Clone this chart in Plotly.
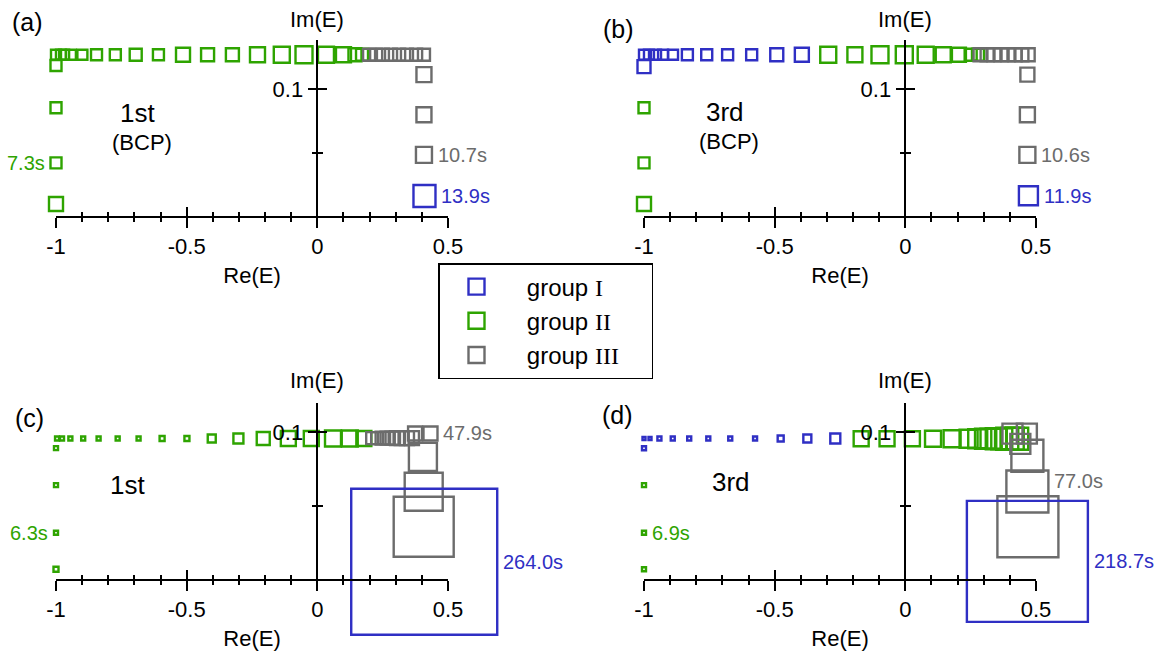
import plotly.graph_objects as go

W, H = 1167, 654
FONT = "Liberation Sans, Arial, Helvetica, sans-serif"
SERIF = "Liberation Serif, Times New Roman, serif"
BLUE = "#2f2fc4"
GREEN = "#2ea400"
GRAY = "#6c6c6c"

# ---------------- data (Re(E), Im(E), marker size ~ elapsed time) ----------------
# panel (a): 1st (BCP)
a_I_x = [0.410]
a_I_y = [0.0158]
a_I_s = [22]
a_II_x = [-1.0, -1.0, -1.0, -1.0,
          -1.0, -0.981, -0.969, -0.943, -0.899, -0.845, -0.773, -0.695, -0.608, -0.514,
          -0.420, -0.325, -0.229, -0.136, -0.051, 0.033, 0.100, 0.144, 0.171]
a_II_y = [0.0095, 0.0418, 0.0853, 0.1185] + [0.127] * 19
a_II_s = [14, 11, 11, 11,
          10, 10, 10, 10, 10, 11, 11, 12, 11, 14, 13, 13, 15, 16, 17, 16, 15, 13, 12]
a_III_x = [0.198, 0.225, 0.251, 0.282, 0.313, 0.343, 0.378, 0.408, 0.408, 0.408, 0.408]
a_III_y = [0.127] * 8 + [0.1113, 0.0797, 0.0481]
a_III_s = [12] * 8 + [15, 15, 16]

# panel (b): 3rd (BCP)
b_I_x = [-1.0, -1.0, -0.981, -0.954, -0.927, -0.889, -0.834, -0.760, -0.680, -0.588,
         -0.492, -0.396, 0.471]
b_I_y = [0.1176] + [0.127] * 11 + [0.016]
b_I_s = [13, 10, 10, 10, 10, 10, 11, 11, 11, 11, 13, 14, 19]
b_II_x = [-1.0, -1.0, -1.0,
          -0.295, -0.193, -0.097, -0.004, 0.078, 0.145, 0.205, 0.250, 0.278]
b_II_y = [0.0095, 0.0418, 0.0852] + [0.127] * 9
b_II_s = [14, 11, 11, 16, 15, 17, 17, 16, 15, 14, 12, 12]
b_III_x = [0.286, 0.313, 0.339, 0.366, 0.393, 0.420, 0.446, 0.470, 0.467, 0.467, 0.467]
b_III_y = [0.127] * 8 + [0.1113, 0.0797, 0.0481]
b_III_s = [13] * 8 + [14, 15, 16]

# panel (c): 1st
c_I_x = [0.409]
c_I_y = [0.0119]
c_I_s = [146]
c_II_x = [-1.0, -1.0, -1.0, -1.0,
          -0.996, -0.977, -0.945, -0.896, -0.837, -0.764, -0.684, -0.594, -0.499,
          -0.404, -0.302, -0.207, -0.111, -0.023, 0.060, 0.124, 0.178]
c_II_y = [0.0068, 0.0316, 0.0640, 0.0891] + [0.0957] * 17
c_II_s = [5, 4, 4, 4,
          4, 4, 4, 4, 4, 4, 4, 5, 5, 8, 10, 13, 15, 15, 16, 16, 15]
c_III_x = [0.210, 0.229, 0.248, 0.267, 0.286, 0.305, 0.323, 0.343, 0.362,
           0.374, 0.433, 0.404, 0.407, 0.407]
c_III_y = [0.0959] * 9 + [0.0991, 0.0991, 0.0832, 0.0595, 0.0357]
c_III_s = [12, 12, 13, 13, 13, 14, 14, 14, 14, 14, 14, 28, 38, 60]

# panel (d): 3rd
d_I_x = [-1.0, -1.0, -0.977, -0.941, -0.890, -0.827, -0.754, -0.670, -0.575, -0.477,
         -0.375, -0.268, 0.467]
d_I_y = [0.089] + [0.0957] * 11 + [0.0122]
d_I_s = [4, 3, 3, 4, 4, 4, 4, 4, 4, 6, 8, 10, 121]
d_II_x = [-1.0, -1.0, -1.0,
          -0.169, -0.070, 0.027, 0.106, 0.179, 0.242, 0.277, 0.305, 0.326, 0.348,
          0.369, 0.390, 0.411, 0.428]
d_II_y = [0.0068, 0.0316, 0.0640] + [0.0955] * 14
d_II_s = [4, 4, 4, 15, 15, 15, 16, 17, 18, 19, 20, 20, 21, 21, 22, 22, 22]
d_III_x = [0.410, 0.465, 0.440, 0.467, 0.467, 0.469]
d_III_y = [0.0990, 0.0990, 0.0920, 0.0840, 0.0597, 0.0357]
d_III_s = [20, 20, 20, 32, 42, 61]

groups = ["I", "II", "III"]
colors = {"I": BLUE, "II": GREEN, "III": GRAY}
legend_names = {
    "I": "&nbsp;&nbsp;group <span style='font-family:Liberation Serif'>I</span>",
    "II": "&nbsp;&nbsp;group <span style='font-family:Liberation Serif'>II</span>",
    "III": "&nbsp;&nbsp;group <span style='font-family:Liberation Serif'>III</span>&nbsp;&nbsp;&nbsp;&nbsp;",
}

data = {
    1: {"I": (a_I_x, a_I_y, a_I_s), "II": (a_II_x, a_II_y, a_II_s), "III": (a_III_x, a_III_y, a_III_s)},
    2: {"I": (b_I_x, b_I_y, b_I_s), "II": (b_II_x, b_II_y, b_II_s), "III": (b_III_x, b_III_y, b_III_s)},
    3: {"I": (c_I_x, c_I_y, c_I_s), "II": (c_II_x, c_II_y, c_II_s), "III": (c_III_x, c_III_y, c_III_s)},
    4: {"I": (d_I_x, d_I_y, d_I_s), "II": (d_II_x, d_II_y, d_II_s), "III": (d_III_x, d_III_y, d_III_s)},
}

# time labels: (panel, group, point index, text, side, yshift)
time_labels = [
    (1, "II", 1, "7.3s", "left", 0),
    (1, "III", 10, "10.7s", "right", 0),
    (1, "I", 0, "13.9s", "right", 0),
    (2, "III", 10, "10.6s", "right", 0),
    (2, "I", 12, "11.9s", "right", 0),
    (3, "III", 10, "47.9s", "right", 0),
    (3, "II", 1, "6.3s", "left", 0),
    (3, "I", 0, "264.0s", "right", 0),
    (4, "III", 4, "77.0s", "right", 10),
    (4, "II", 1, "6.9s", "right", 0),
    (4, "I", 12, "218.7s", "right", 0),
]

x_major = [-1, -0.5, 0, 0.5]
x_major_text = ["-1", "-0.5", "0", "0.5"]
x_minor = [-0.9, -0.8, -0.7, -0.6, -0.4, -0.3, -0.2, -0.1, 0.1, 0.2, 0.3, 0.4]
y_major = [0.1]
y_major_text = ["0.1"]
y_minor = [0.05]

# ---------------- geometry ----------------
xdom = {1: [56 / W, 448 / W], 2: [644 / W, 1036 / W], 3: [56 / W, 448 / W], 4: [644 / W, 1036 / W]}
ydom = {1: [1 - 216 / H, 1 - 40 / H], 2: [1 - 216 / H, 1 - 40 / H],
        3: [1 - 579.3 / H, 1 - 402.7 / H], 4: [1 - 579.3 / H, 1 - 402.7 / H]}
yrng = {1: [0, 0.1386], 2: [0, 0.1386], 3: [0, 0.12], 4: [0, 0.12]}
XR = [-1, 0.5]
LW = 2.4

fig = go.Figure()

for p in range(1, 5):
    for g in ["II", "III", "I"]:
        xs, ys, ss = data[p][g]
        fig.add_trace(go.Scatter(
            x=xs, y=ys, mode="markers", showlegend=False, cliponaxis=False,
            marker=dict(symbol="square-open", size=ss, color=colors[g], opacity=1,
                        line=dict(width=LW, color=colors[g])),
            xaxis=f"x{p}", yaxis=f"y{p}", hoverinfo="skip"))
    # helper traces so that the overlay (inner-tick) axes are drawn
    fig.add_trace(go.Scatter(x=[None], y=[None], xaxis=f"x{p+4}", yaxis=f"y{p}",
                             showlegend=False, hoverinfo="skip"))
    fig.add_trace(go.Scatter(x=[None], y=[None], xaxis=f"x{p}", yaxis=f"y{p+4}",
                             showlegend=False, hoverinfo="skip"))

# legend entries
for g in groups:
    fig.add_trace(go.Scatter(
        x=[None], y=[None], mode="markers", name=legend_names[g],
        marker=dict(symbol="square-open", size=16, color=colors[g],
                    line=dict(width=LW, color=colors[g])),
        xaxis="x1", yaxis="y1"))

layout = dict(
    width=W, height=H, margin=dict(l=0, r=0, t=0, b=0),
    paper_bgcolor="white", plot_bgcolor="rgba(0,0,0,0)",
    font=dict(family=FONT, size=22, color="black"),
    showlegend=True,
    legend=dict(x=438 / W, y=1 - 263 / H, xanchor="left", yanchor="top",
                bgcolor="white", bordercolor="black", borderwidth=1.5,
                font=dict(family=FONT, size=24), itemwidth=64, tracegroupgap=0),
)

for p in range(1, 5):
    ypos = (0 - XR[0]) / (XR[1] - XR[0]) * (xdom[p][1] - xdom[p][0]) + xdom[p][0]
    layout[f"xaxis{p}"] = dict(
        domain=xdom[p], range=XR, anchor=f"y{p}", showline=True, linecolor="black",
        linewidth=1.5, showgrid=False, zeroline=False, ticks="outside", ticklen=10,
        tickwidth=1.5, tickcolor="black", tickmode="array", tickvals=x_major,
        ticktext=x_major_text, tickfont=dict(size=22),
        minor=dict(tickmode="array", tickvals=x_minor, ticks="outside", ticklen=4,
                   tickwidth=1.5, tickcolor="black", showgrid=False),
        title=dict(text="Re(E)", font=dict(size=22), standoff=9), automargin=False,
        fixedrange=True)
    layout[f"xaxis{p+4}"] = dict(
        overlaying=f"x{p}", range=XR, anchor=f"y{p}", showline=False, showgrid=False,
        zeroline=False, ticks="inside", ticklen=9, tickwidth=1.5, tickcolor="black",
        tickmode="array", tickvals=x_major, showticklabels=False,
        minor=dict(tickmode="array", tickvals=x_minor, ticks="inside", ticklen=4,
                   tickwidth=1.5, tickcolor="black", showgrid=False),
        automargin=False, fixedrange=True)
    layout[f"yaxis{p}"] = dict(
        domain=ydom[p], range=yrng[p], anchor="free", position=ypos, showline=True,
        linecolor="black", linewidth=1.5, showgrid=False, zeroline=False,
        ticks="outside", ticklen=9, tickwidth=1.5, tickcolor="black",
        tickmode="array", tickvals=y_major, ticktext=y_major_text, tickfont=dict(size=22),
        minor=dict(tickmode="array", tickvals=y_minor, ticks="outside", ticklen=5,
                   tickwidth=1.5, tickcolor="black", showgrid=False),
        automargin=False, fixedrange=True)
    layout[f"yaxis{p+4}"] = dict(
        overlaying=f"y{p}", range=yrng[p], anchor="free", position=ypos,
        showline=False, showgrid=False, zeroline=False, ticks="inside", ticklen=9,
        tickwidth=1.5, tickcolor="black", tickmode="array", tickvals=y_major,
        showticklabels=False,
        minor=dict(tickmode="array", tickvals=y_minor, ticks="inside", ticklen=5,
                   tickwidth=1.5, tickcolor="black", showgrid=False),
        automargin=False, fixedrange=True)

fig.update_layout(**layout)

# ---------------- annotations ----------------
def ptext(px, py, text, size, color="black", family=FONT):
    fig.add_annotation(x=px / W, y=1 - py / H, xref="paper", yref="paper",
                       text=text, showarrow=False, xanchor="center", yanchor="middle",
                       font=dict(size=size, color=color, family=family))

panel_texts = [
    (27.5, 22.5, "(a)", 25), (619, 28.5, "(b)", 25), (29, 418, "(c)", 25), (617, 415, "(d)", 25),
    (137, 113, "1st", 26), (142, 142.5, "(BCP)", 22),
    (725, 112, "3rd", 26), (729, 141, "(BCP)", 22),
    (127, 485, "1st", 26), (731, 482, "3rd", 26),
]
for px, py, t, s in panel_texts:
    ptext(px, py, t, s)

# Im(E) titles above each vertical axis
for p, py in [(1, 19), (2, 19), (3, 381), (4, 381)]:
    fig.add_annotation(x=0, y=1 - py / H, xref=f"x{p}", yref="paper", text="Im(E)",
                       showarrow=False, xanchor="center", yanchor="middle",
                       font=dict(size=22, color="black"))

for p, g, i, t, side, dy in time_labels:
    xs, ys, ss = data[p][g]
    off = ss[i] / 2 + 4
    fig.add_annotation(x=xs[i], y=ys[i], xref=f"x{p}", yref=f"y{p}", text=t,
                       showarrow=False, yanchor="middle",
                       xanchor="left" if side == "right" else "right",
                       xshift=off if side == "right" else -off, yshift=dy,
                       font=dict(size=20, color=colors[g]))

fig.write_html("out.html")
